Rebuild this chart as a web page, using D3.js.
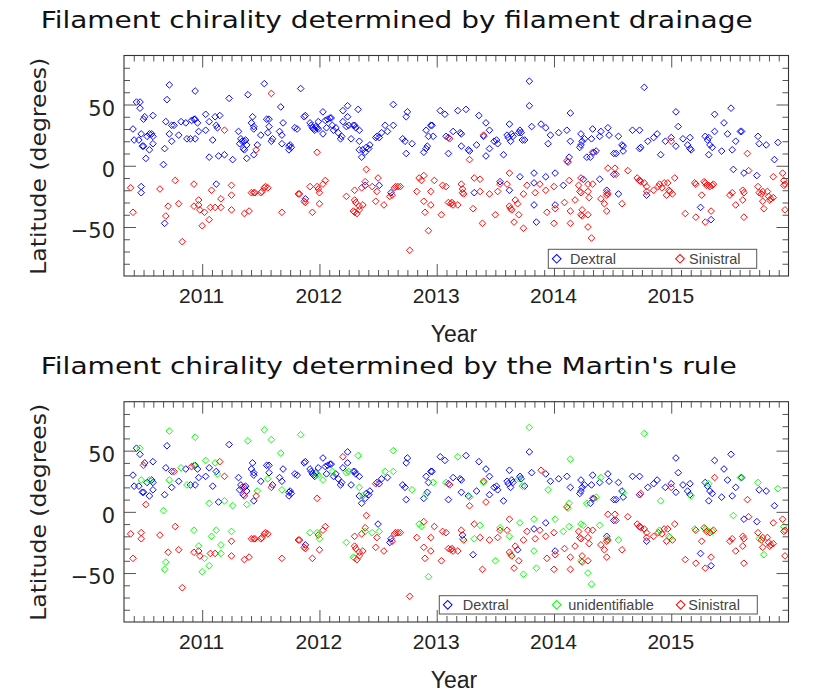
<!DOCTYPE html>
<html>
<head>
<meta charset="utf-8">
<script src="https://cdn.jsdelivr.net/npm/d3@7"></script>
<style>
  html, body { margin: 0; padding: 0; background: #fff; }
  svg { display: block; }
</style>
</head>
<body>
<svg id="chart" width="830" height="692"></svg>
<script>
// ---------------- DATA ----------------
const yearTicks = [2011, 2012, 2013, 2014, 2015];
const latTicks = [-50, 0, 50];
const titles = [
  "Filament chirality determined by filament drainage",
  "Filament chirality determined by the Martin's rule"
];
const topCategories = ["Dextral", "Sinistral"];
const bottomCategories = ["Dextral", "unidentifiable", "Sinistral"];

// Each filament: [decimal year, latitude (deg), chirality by Martin's rule: D / U / S]
// Filaments that are dextral by filament drainage
const drainageDextral = [
  [2010.72,66,"U"],[2010.94,61,"U"],[2011.39,58,"U"],[2011.53,67,"U"],[2010.70,54,"D"],[2011.23,55,"D"],
  [2011.67,48,"U"],[2010.44,52,"D"],[2010.47,52,"U"],[2010.47,47,"D"],[2010.58,41,"D"],[2010.51,40,"D"],
  [2010.50,38,"S"],[2010.69,36,"D"],[2010.74,33,"D"],[2010.76,33,"S"],[2010.82,36,"U"],[2010.86,35,"D"],
  [2010.91,37,"S"],[2010.93,38,"U"],[2010.94,38,"D"],[2010.96,35,"D"],[2011.03,42,"U"],[2011.06,36,"D"],
  [2011.11,40,"U"],[2011.15,41,"S"],[2011.12,33,"D"],[2011.13,31,"U"],[2011.31,28,"D"],[2011.43,40,"D"],
  [2011.44,32,"D"],[2011.44,30,"D"],[2011.42,35,"D"],[2011.55,38,"D"],[2011.57,38,"D"],[2011.57,32,"D"],
  [2011.56,27,"U"],[2011.69,35,"D"],[2011.66,28,"D"],[2011.68,25,"D"],[2011.79,31,"D"],[2011.81,30,"D"],
  [2010.41,30,"D"],[2010.42,21,"D"],[2010.46,21,"D"],[2010.48,26,"U"],[2010.53,24,"D"],[2010.55,26,"U"],
  [2010.57,26,"D"],[2010.58,24,"D"],[2010.58,18,"D"],[2010.49,16,"D"],[2010.50,16,"D"],[2010.72,26,"U"],
  [2010.74,20,"D"],[2010.80,25,"D"],[2010.87,22,"U"],[2010.90,22,"D"],[2010.94,22,"D"],[2010.97,28,"D"],
  [2011.03,29,"D"],[2011.09,21,"D"],[2011.33,22,"D"],[2011.34,20,"S"],[2011.36,20,"D"],[2011.37,21,"D"],
  [2011.32,18,"D"],[2011.35,14,"D"],[2011.36,13,"S"],[2011.38,17,"D"],[2011.47,17,"U"],[2011.50,25,"D"],
  [2011.60,22,"D"],[2011.59,20,"S"],[2011.68,18,"U"],[2011.75,17,"D"],[2011.76,15,"D"],[2010.52,6,"S"],
  [2010.55,13,"D"],[2010.67,1,"U"],[2010.68,14,"D"],[2011.06,7,"U"],[2011.14,8,"D"],[2011.19,9,"U"],
  [2011.26,5,"U"],[2011.38,6,"U"],[2011.44,9,"D"],[2011.74,16,"D"],[2011.74,13,"D"],
  [2010.48,-17,"S"],[2010.48,-22,"S"],[2010.68,-47,"U"],[2011.12,-15,"U"],
  [2011.84,63,"U"],[2011.87,40,"D"],[2011.88,41,"D"],[2011.92,35,"D"],[2011.93,33,"D"],[2011.94,31,"D"],
  [2011.95,30,"D"],[2011.96,29,"D"],[2011.97,32,"D"],[2011.99,36,"D"],[2011.98,31,"U"],[2011.99,30,"U"],
  [2012.03,44,"D"],[2012.03,26,"U"],[2012.05,37,"D"],[2012.06,31,"D"],[2012.07,38,"D"],[2012.09,39,"D"],
  [2012.10,39,"D"],[2012.11,33,"U"],[2012.12,29,"D"],[2012.14,31,"D"],[2012.16,27,"D"],[2012.18,22,"D"],
  [2012.19,24,"D"],[2012.20,36,"D"],[2012.20,45,"S"],[2012.24,49,"D"],[2012.24,40,"D"],[2012.23,32,"U"],
  [2012.25,33,"U"],[2012.27,22,"D"],[2012.29,33,"D"],[2012.30,33,"D"],[2012.31,31,"D"],[2012.33,46,"U"],
  [2012.34,29,"D"],[2012.34,20,"U"],[2012.34,13,"D"],[2012.36,7,"D"],[2012.37,13,"U"],[2012.39,11,"D"],
  [2012.40,15,"D"],[2012.42,14,"D"],[2012.43,17,"D"],[2012.48,23,"S"],[2012.49,24,"D"],[2012.51,23,"D"],
  [2012.53,27,"D"],[2012.56,33,"U"],[2012.58,28,"D"],[2012.63,50,"U"],[2012.63,33,"U"],[2012.71,22,"D"],
  [2012.73,20,"D"],[2012.74,40,"D"],[2012.75,44,"D"],[2012.74,10,"D"],[2012.79,18,"U"],[2012.89,11,"D"],
  [2012.91,14,"U"],[2012.92,16,"D"],[2012.91,29,"D"],[2012.93,24,"D"],[2012.95,33,"D"],[2012.96,33,"D"],
  [2012.97,24,"U"],[2013.03,45,"D"],[2013.07,42,"D"],[2013.08,24,"U"],[2013.10,23,"D"],[2013.10,10,"D"],
  [2013.14,28,"D"],[2013.18,45,"U"],[2013.20,27,"D"],[2013.21,26,"D"],[2013.21,16,"D"],[2013.25,46,"D"],
  [2013.27,13,"D"],[2013.28,12,"U"],[2013.34,17,"D"],[2013.36,41,"D"],[2013.40,24,"U"],[2013.42,35,"D"],
  [2013.42,8,"S"],[2013.45,29,"D"],[2013.45,14,"D"],[2013.49,20,"D"],[2013.51,21,"D"],[2013.52,18,"D"],
  [2013.57,9,"D"],[2013.60,25,"D"],[2013.61,23,"D"],[2013.62,34,"D"],[2013.63,20,"D"],[2013.64,26,"D"],
  [2013.65,24,"D"],[2013.70,27,"U"],[2013.71,29,"D"],[2013.72,27,"D"],[2013.73,21,"U"],[2013.75,21,"D"],
  [2013.79,69,"U"],[2013.79,49,"D"],[2013.81,32,"D"],[2013.89,34,"S"],[2013.93,31,"D"],[2013.95,18,"U"],
  [2013.97,25,"D"],[2014.04,27,"D"],
  [2011.88,-27,"D"],[2012.39,-16,"U"],[2012.51,-16,"U"],[2012.61,-22,"D"],[2013.32,-22,"U"],[2013.54,-13,"U"],
  [2013.62,-20,"U"],[2013.71,-9,"U"],[2013.83,-6,"U"],[2013.83,-14,"D"],[2013.83,-32,"U"],[2013.85,-46,"U"],
  [2013.93,-9,"D"],[2014.01,-6,"U"],[2014.01,-32,"D"],
  [2014.11,29,"D"],[2014.14,43,"U"],[2014.14,20,"D"],[2014.12,3,"U"],[2014.13,7,"U"],[2014.22,15,"D"],
  [2014.23,17,"D"],[2014.24,20,"D"],[2014.23,26,"D"],[2014.26,22,"D"],[2014.28,7,"U"],[2014.31,7,"D"],
  [2014.32,22,"D"],[2014.33,30,"D"],[2014.34,11,"D"],[2014.36,12,"U"],[2014.39,24,"D"],[2014.40,28,"U"],
  [2014.46,31,"D"],[2014.47,25,"D"],[2014.51,10,"D"],[2014.53,10,"D"],[2014.55,24,"D"],[2014.58,17,"D"],
  [2014.59,16,"U"],[2014.59,12,"D"],[2014.67,29,"D"],[2014.73,29,"D"],[2014.73,14,"D"],[2014.74,15,"S"],
  [2014.77,64,"U"],[2014.80,20,"D"],[2014.85,23,"D"],[2014.88,26,"D"],[2014.91,9,"U"],[2014.95,20,"D"],
  [2015.00,23,"D"],[2015.04,16,"D"],[2015.04,44,"D"],[2015.06,32,"D"],[2015.10,22,"D"],[2015.14,17,"D"],
  [2015.16,14,"D"],[2015.17,13,"U"],[2015.16,23,"D"],[2015.29,24,"D"],[2015.31,21,"D"],[2015.32,23,"U"],
  [2015.33,17,"D"],[2015.35,15,"D"],[2015.32,9,"D"],[2015.37,42,"D"],[2015.37,28,"S"],[2015.43,12,"D"],
  [2015.45,35,"D"],[2015.48,26,"D"],[2015.51,47,"D"],[2015.52,13,"D"],[2015.55,20,"D"],[2015.59,28,"U"],
  [2015.60,28,"D"],[2015.74,24,"U"],[2015.75,18,"D"],[2015.81,17,"D"],[2015.88,5,"D"],[2015.91,19,"U"],
  [2014.08,-16,"U"],[2014.25,-11,"U"],[2014.39,-11,"U"],[2014.45,-20,"D"],[2014.51,-7,"D"],[2014.55,-23,"U"],
  [2014.73,-12,"D"],[2014.79,-24,"D"],[2015.25,-34,"D"],[2015.34,-44,"D"],[2015.53,-3,"U"],[2015.62,-6,"D"],
  [2015.73,-8,"D"]
];

// Filaments that are sinistral by filament drainage
const drainageSinistral = [
  [2011.59,59,"U"],[2011.19,29,"S"],[2011.46,13,"S"],[2010.39,-18,"S"],[2010.41,-38,"S"],[2010.64,-19,"S"],
  [2010.71,-33,"S"],[2010.69,-41,"U"],[2010.77,-12,"S"],[2010.80,-31,"S"],[2010.83,-62,"S"],[2010.93,-15,"U"],
  [2010.93,-33,"S"],[2010.97,-28,"U"],[2010.97,-32,"S"],[2010.98,-36,"S"],[2011.00,-49,"U"],[2011.02,-38,"U"],
  [2011.06,-44,"U"],[2011.08,-20,"U"],[2011.07,-34,"S"],[2011.11,-34,"S"],[2011.16,-34,"U"],[2011.16,-27,"U"],
  [2011.25,-16,"U"],[2011.25,-24,"S"],[2011.25,-36,"S"],[2011.36,-39,"S"],[2011.40,-37,"S"],[2011.42,-22,"S"],
  [2011.44,-22,"S"],[2011.45,-22,"S"],[2011.50,-22,"S"],[2011.51,-21,"S"],[2011.53,-18,"S"],[2011.54,-17,"S"],
  [2011.56,-18,"S"],[2011.68,-38,"S"],[2011.82,-23,"S"],
  [2011.98,11,"S"],[2013.11,22,"S"],[2013.28,5,"S"],[2013.40,25,"S"],
  [2011.83,-23,"S"],[2011.87,-29,"S"],[2011.88,-30,"S"],[2011.92,-17,"U"],[2011.94,-38,"S"],[2011.98,-17,"U"],
  [2011.99,-19,"S"],[2012.00,-22,"U"],[2012.00,-31,"S"],[2012.03,-15,"S"],[2012.05,-12,"S"],[2012.23,-25,"U"],
  [2012.30,-20,"S"],[2012.30,-28,"S"],[2012.31,-30,"S"],[2012.29,-37,"U"],[2012.30,-38,"U"],[2012.32,-39,"S"],
  [2012.34,-36,"S"],[2012.34,-33,"S"],[2012.37,-32,"S"],[2012.40,-3,"S"],[2012.39,-13,"S"],[2012.36,-18,"S"],
  [2012.45,-17,"U"],[2012.48,-29,"S"],[2012.49,-21,"S"],[2012.50,-10,"D"],[2012.55,-32,"S"],[2012.60,-25,"D"],
  [2012.62,-24,"S"],[2012.64,-18,"S"],[2012.65,-17,"S"],[2012.67,-17,"S"],[2012.69,-17,"S"],[2012.77,-69,"S"],
  [2012.83,-21,"S"],[2012.85,-10,"U"],[2012.87,-12,"U"],[2012.89,-8,"S"],[2012.89,-29,"S"],[2012.90,-38,"S"],
  [2012.93,-53,"U"],[2012.95,-21,"S"],[2012.95,-32,"S"],[2012.98,-12,"S"],[2013.04,-40,"S"],[2013.05,-16,"S"],
  [2013.08,-17,"S"],[2013.10,-30,"S"],[2013.12,-31,"S"],[2013.13,-30,"S"],[2013.14,-32,"S"],[2013.18,-32,"S"],
  [2013.21,-15,"S"],[2013.22,-19,"D"],[2013.22,-22,"U"],[2013.23,-23,"S"],[2013.31,-35,"D"],[2013.32,-10,"S"],
  [2013.37,-11,"U"],[2013.37,-21,"S"],[2013.39,-47,"S"],[2013.45,-23,"S"],[2013.50,-40,"U"],[2013.52,-21,"S"],
  [2013.54,-15,"S"],[2013.60,-15,"S"],[2013.62,-6,"S"],[2013.62,-33,"S"],[2013.63,-35,"U"],[2013.64,-36,"S"],
  [2013.67,-28,"S"],[2013.69,-31,"D"],[2013.66,-46,"S"],[2013.70,-40,"S"],[2013.74,-51,"U"],[2013.74,-23,"S"],
  [2013.77,-16,"S"],[2013.84,-22,"S"],[2013.88,-15,"S"],[2013.93,-20,"S"],[2013.94,-38,"S"],[2014.00,-17,"S"],
  [2014.00,-47,"S"],[2014.01,-35,"S"],
  [2014.11,4,"S"],[2014.33,11,"S"],[2015.00,20,"S"],[2015.65,10,"S"],
  [2014.09,-30,"S"],[2014.13,-12,"U"],[2014.14,-37,"S"],[2014.14,-47,"S"],[2014.18,-28,"S"],[2014.21,-16,"S"],
  [2014.22,-21,"S"],[2014.23,-22,"S"],[2014.23,-40,"U"],[2014.24,-41,"S"],[2014.23,-10,"U"],[2014.24,-36,"S"],
  [2014.29,-15,"S"],[2014.29,-21,"S"],[2014.30,-26,"S"],[2014.29,-40,"S"],[2014.29,-50,"U"],[2014.32,-59,"U"],
  [2014.33,-15,"S"],[2014.40,-27,"S"],[2014.43,-31,"S"],[2014.45,-37,"S"],[2014.45,-22,"U"],[2014.46,-23,"S"],
  [2014.45,-24,"S"],[2014.46,-2,"S"],[2014.52,-2,"S"],[2014.53,-7,"S"],[2014.58,-31,"S"],[2014.63,-4,"S"],
  [2014.71,-10,"S"],[2014.73,-12,"S"],[2014.74,-13,"S"],[2014.77,-14,"S"],[2014.79,-17,"S"],[2014.79,-21,"S"],
  [2014.85,-20,"S"],[2014.89,-17,"S"],[2014.90,-15,"U"],[2014.92,-18,"S"],[2014.94,-14,"S"],[2014.97,-14,"S"],
  [2014.98,-20,"U"],[2014.96,-24,"S"],[2014.99,-21,"U"],[2015.01,-23,"S"],[2015.03,-10,"S"],[2015.12,-39,"S"],
  [2015.20,-14,"U"],[2015.21,-15,"S"],[2015.21,-42,"S"],[2015.26,-24,"S"],[2015.28,-13,"S"],[2015.29,-14,"U"],
  [2015.30,-16,"S"],[2015.32,-16,"U"],[2015.33,-17,"S"],[2015.35,-16,"U"],[2015.36,-15,"S"],[2015.29,-46,"S"],
  [2015.34,-37,"S"],[2015.50,-24,"S"],[2015.52,-22,"S"],[2015.55,-32,"S"],[2015.61,-20,"S"],[2015.61,-28,"S"],
  [2015.62,-22,"S"],[2015.62,-42,"S"],[2015.66,-4,"S"],[2015.74,-17,"S"],[2015.75,-22,"U"],[2015.77,-23,"S"],
  [2015.78,-21,"S"],[2015.78,-29,"S"],[2015.79,-35,"U"],[2015.82,-21,"S"],[2015.83,-25,"S"],[2015.84,-28,"S"],
  [2015.85,-27,"S"],[2015.87,-26,"S"],[2015.87,-9,"S"],[2015.95,-6,"S"],[2015.96,-12,"U"],[2015.97,-15,"S"],
  [2015.96,-16,"S"],[2015.97,-36,"S"]
];

// ---------------- CHART ----------------
const allFilaments = drainageDextral.concat(drainageSinistral);
const martinDextral = allFilaments.filter(d => d[2] === "D");
const martinUnidentifiable = allFilaments.filter(d => d[2] === "U");
const martinSinistral = allFilaments.filter(d => d[2] === "S");

const colors = { Dextral: "#0000ff", unidentifiable: "#00ff00", Sinistral: "#ff0000" };

const svg = d3.select("#chart");
const L = 124, R = 788.5;
const x = d3.scaleLinear().domain([2010 + 4 / 12, 2016]).range([L, R]);

const monthTicks = d3.range(5, 72).map(m => 2010 + m / 12).filter(t => Math.abs(t - Math.round(t)) > 1e-6);
const latMinor = d3.range(-80, 90, 10).filter(v => v % 50 !== 0);

const diamond = d3.symbol().type(d3.symbolSquare).size(22);

function panel(cfg) {
  const y = d3.scaleLinear().domain([-90, 90]).range([cfg.bottom, cfg.top]);
  const g = svg.append("g");

  // title
  g.append("text")
    .attr("x", 40.7).attr("y", cfg.titleY)
    .attr("textLength", cfg.titleLen).attr("lengthAdjust", "spacingAndGlyphs")
    .style("font-family", "DejaVu Sans").style("font-size", "23px").style("fill", "#111")
    .text(cfg.title);

  // points
  cfg.series.forEach(s => {
    g.append("g").selectAll("path").data(s.data).enter().append("path")
      .attr("d", diamond)
      .attr("transform", d => `translate(${x(d[0])},${y(d[1])}) rotate(45)`)
      .attr("fill", "none").attr("stroke", colors[s.name]).attr("stroke-width", 0.9);
  });

  const tickColor = "#555";
  // bottom axis major
  const bx = g.append("g").attr("transform", `translate(0,${cfg.bottom})`)
    .call(d3.axisBottom(x).tickValues(yearTicks).tickFormat(d3.format("d"))
      .tickSize(-12).tickSizeOuter(0).tickPadding(12));
  bx.selectAll("text").style("font-family", "Liberation Sans").style("font-size", "21px").style("fill", "#222")
    .attr("dx", "-1");
  // bottom axis minor
  g.append("g").attr("transform", `translate(0,${cfg.bottom})`)
    .call(d3.axisBottom(x).tickValues(monthTicks).tickFormat("").tickSize(-6).tickSizeOuter(0));
  // top axis
  g.append("g").attr("transform", `translate(0,${cfg.top})`)
    .call(d3.axisTop(x).tickValues(yearTicks).tickFormat("").tickSize(-12).tickSizeOuter(0));
  g.append("g").attr("transform", `translate(0,${cfg.top})`)
    .call(d3.axisTop(x).tickValues(monthTicks).tickFormat("").tickSize(-6).tickSizeOuter(0));
  // left axis
  const ly = g.append("g").attr("transform", `translate(${L},0)`)
    .call(d3.axisLeft(y).tickValues(latTicks).tickSize(-12).tickSizeOuter(0).tickPadding(9));
  ly.selectAll("text").style("font-family", "DejaVu Sans").style("font-size", "21px").style("fill", "#222")
    .attr("dy", "0.5em");
  g.append("g").attr("transform", `translate(${L},0)`)
    .call(d3.axisLeft(y).tickValues(latMinor).tickFormat("").tickSize(-6).tickSizeOuter(0));
  // right axis
  g.append("g").attr("transform", `translate(${R},0)`)
    .call(d3.axisRight(y).tickValues(latTicks).tickFormat("").tickSize(-12).tickSizeOuter(0));
  g.append("g").attr("transform", `translate(${R},0)`)
    .call(d3.axisRight(y).tickValues(latMinor).tickFormat("").tickSize(-6).tickSizeOuter(0));

  g.selectAll(".domain").remove();
  g.selectAll(".tick line").attr("stroke", tickColor).attr("stroke-width", 1);

  // frame
  g.append("rect").attr("x", L).attr("y", cfg.top).attr("width", R - L).attr("height", cfg.bottom - cfg.top)
    .attr("fill", "none").attr("stroke", "#333").attr("stroke-width", 1.1);

  // axis titles
  g.append("text")
    .attr("transform", `translate(46,${(cfg.top + cfg.bottom) / 2 + 0.5}) rotate(-90)`)
    .attr("text-anchor", "middle")
    .attr("textLength", 217).attr("lengthAdjust", "spacingAndGlyphs")
    .style("font-family", "DejaVu Sans").style("font-size", "21px").style("fill", "#222")
    .text("Latitude (degrees)");
  g.append("text")
    .attr("x", 454).attr("y", cfg.bottom + 65.7).attr("text-anchor", "middle")
    .style("font-family", "Liberation Sans").style("font-size", "23px").style("fill", "#222")
    .text("Year");

  // legend
  const lg = g.append("g");
  lg.append("rect").attr("x", cfg.legend.x0).attr("y", cfg.legend.y0)
    .attr("width", cfg.legend.x1 - cfg.legend.x0).attr("height", cfg.legend.y1 - cfg.legend.y0)
    .attr("fill", "#fff").attr("stroke", "#555").attr("stroke-width", 1);
  cfg.legend.items.forEach(it => {
    const cy = (cfg.legend.y0 + cfg.legend.y1) / 2;
    lg.append("path").attr("d", d3.symbol().type(d3.symbolSquare).size(38))
      .attr("transform", `translate(${it.mx},${cy}) rotate(45)`)
      .attr("fill", "none").attr("stroke", colors[it.name]).attr("stroke-width", 1);
    lg.append("text").attr("x", it.tx).attr("y", cy + 5)
      .style("font-family", "Liberation Sans").style("font-size", "14.5px").style("fill", "#444")
      .text(it.name);
  });
}

panel({
  top: 55.5, bottom: 276, titleY: 28.3, titleLen: 712, title: titles[0],
  series: [
    { name: "Dextral", data: drainageDextral },
    { name: "Sinistral", data: drainageSinistral }
  ],
  legend: {
    x0: 548.3, x1: 756.7, y0: 249.3, y1: 268.3,
    items: [
      { name: topCategories[0], mx: 556.7, tx: 570 },
      { name: topCategories[1], mx: 680, tx: 689 }
    ]
  }
});

panel({
  top: 401.7, bottom: 622, titleY: 374.3, titleLen: 696, title: titles[1],
  series: [
    { name: "Dextral", data: martinDextral },
    { name: "unidentifiable", data: martinUnidentifiable },
    { name: "Sinistral", data: martinSinistral }
  ],
  legend: {
    x0: 439.3, x1: 757.3, y0: 595.7, y1: 614,
    items: [
      { name: bottomCategories[0], mx: 447.7, tx: 462.7 },
      { name: bottomCategories[1], mx: 556.7, tx: 568.3 },
      { name: bottomCategories[2], mx: 680.7, tx: 688.3 }
    ]
  }
});
</script>
</body>
</html>
